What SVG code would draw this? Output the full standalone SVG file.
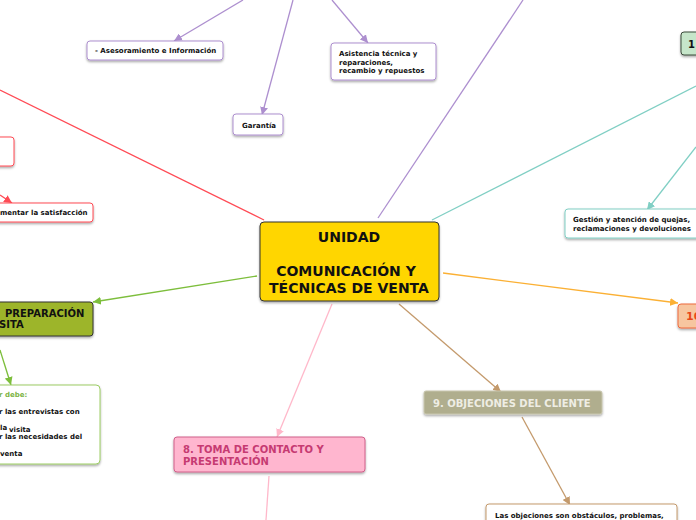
<svg xmlns="http://www.w3.org/2000/svg" width="696" height="520" viewBox="0 0 696 520">
<defs>
<filter id="sh" x="-10%" y="-20%" width="120%" height="150%">
<feDropShadow dx="0" dy="1.5" stdDeviation="1" flood-color="#000" flood-opacity="0.35"/>
</filter>
<marker id="aPur" markerUnits="userSpaceOnUse" markerWidth="9" markerHeight="8" refX="8" refY="4" orient="auto"><path d="M0,0 L8,4 L0,8 z" fill="#AD8FCF"/></marker>
<marker id="aRed" markerUnits="userSpaceOnUse" markerWidth="9" markerHeight="8" refX="8" refY="4" orient="auto"><path d="M0,0 L8,4 L0,8 z" fill="#FF4B55"/></marker>
<marker id="aTeal" markerUnits="userSpaceOnUse" markerWidth="9" markerHeight="8" refX="8" refY="4" orient="auto"><path d="M0,0 L8,4 L0,8 z" fill="#80CFC4"/></marker>
<marker id="aGrn" markerUnits="userSpaceOnUse" markerWidth="9" markerHeight="8" refX="8" refY="4" orient="auto"><path d="M0,0 L8,4 L0,8 z" fill="#7DBE3C"/></marker>
<marker id="aOrg" markerUnits="userSpaceOnUse" markerWidth="9" markerHeight="8" refX="8" refY="4" orient="auto"><path d="M0,0 L8,4 L0,8 z" fill="#FBB034"/></marker>
<marker id="aPnk" markerUnits="userSpaceOnUse" markerWidth="9" markerHeight="8" refX="8" refY="4" orient="auto"><path d="M0,0 L8,4 L0,8 z" fill="#FFB8CA"/></marker>
<marker id="aBrn" markerUnits="userSpaceOnUse" markerWidth="9" markerHeight="8" refX="8" refY="4" orient="auto"><path d="M0,0 L8,4 L0,8 z" fill="#C49A6C"/></marker>
</defs>
<style>
text{font-family:"DejaVu Sans",Verdana,"Liberation Sans",sans-serif;font-weight:bold}
.s{font-size:7px;fill:#111}
.m{font-size:10px}
.c{fill:none;stroke-width:1.3}
.pur{stroke:#AD8FCF}.red{stroke:#FF4B55}.teal{stroke:#80CFC4}.grn{stroke:#7DBE3C}.org{stroke:#FBB034}.pnk{stroke:#FFB8CA}.brn{stroke:#C49A6C}
.box{filter:url(#sh)}
</style>
<rect width="696" height="520" fill="#fff"/>
<g id="connectors">
<line class="c red" x1="264" y1="220" x2="0" y2="90"/>
<line class="c pur" x1="378" y1="218" x2="523" y2="0"/>
<line class="c teal" x1="432" y1="220" x2="696" y2="86"/>
<line class="c grn" x1="257" y1="276" x2="93" y2="302" marker-end="url(#aGrn)"/>
<line class="c org" x1="443" y1="273" x2="678" y2="303" marker-end="url(#aOrg)"/>
<line class="c pnk" x1="332" y1="304" x2="277" y2="437" marker-end="url(#aPnk)"/>
<line class="c brn" x1="399" y1="304" x2="501" y2="392" marker-end="url(#aBrn)"/>
<line class="c pur" x1="243" y1="0" x2="174" y2="41" marker-end="url(#aPur)"/>
<line class="c pur" x1="293" y1="0" x2="262" y2="115" marker-end="url(#aPur)"/>
<line class="c pur" x1="332" y1="0" x2="368" y2="43" marker-end="url(#aPur)"/>
<line class="c teal" x1="696" y1="147" x2="647" y2="210" marker-end="url(#aTeal)"/>
<line class="c brn" x1="522" y1="417" x2="570" y2="505" marker-end="url(#aBrn)"/>
<line class="c pnk" x1="269" y1="476" x2="266" y2="520"/>
<line class="c grn" x1="0" y1="350" x2="11" y2="385" marker-end="url(#aGrn)"/>
<line class="c red" x1="0" y1="195" x2="12" y2="203" marker-end="url(#aRed)"/>
</g>
<g id="central">
<rect class="box" x="260" y="222" width="179" height="79" rx="4" fill="#FFD600" stroke="#333" stroke-width="1"/>
<text x="349" y="242" font-size="14" text-anchor="middle" fill="#111">UNIDAD</text>
<text x="346" y="276" font-size="14" text-anchor="middle" fill="#111">COMUNICACIÓN Y</text>
<text x="349" y="293" font-size="14" text-anchor="middle" fill="#111">TÉCNICAS DE VENTA</text>
</g>
<g id="asesoramiento">
<rect class="box" x="87" y="41" width="136" height="19" rx="3" fill="#fff" stroke="#AD8FCF"/>
<text class="s" x="95" y="53">- Asesoramiento e Información</text>
</g>
<g id="asistencia">
<rect class="box" x="331" y="43" width="105" height="37" rx="3" fill="#fff" stroke="#AD8FCF"/>
<text class="s" x="339" y="56">Asistencia técnica y</text>
<text class="s" x="339" y="64.5">reparaciones,</text>
<text class="s" x="339" y="73">recambio y repuestos</text>
</g>
<g id="garantia">
<rect class="box" x="233" y="114" width="50" height="21" rx="3" fill="#fff" stroke="#AD8FCF"/>
<text class="s" x="242" y="128">Garantía</text>
</g>
<g id="node11">
<rect class="box" x="681" y="32" width="30" height="23" rx="3" fill="#C6E6CA" stroke="#3A4A3A"/>
<text x="688" y="48" font-size="10" fill="#111">1</text>
</g>
<g id="gestion">
<rect class="box" x="565" y="209" width="140" height="29" rx="3" fill="#fff" stroke="#80CFC4"/>
<text class="s" x="573" y="222">Gestión y atención de quejas,</text>
<text class="s" x="573" y="231">reclamaciones y devoluciones</text>
</g>
<g id="node10">
<rect class="box" x="678" y="304" width="30" height="24" rx="3" fill="#F7C6A0" stroke="#EE6A3C"/>
<text x="686" y="320" font-size="11" fill="#E8471A">10</text>
</g>
<g id="node9">
<rect class="box" x="424" y="391" width="178" height="23" rx="2" fill="#B0AE8E" stroke="#C8C6AE"/>
<text class="m" x="433" y="407" fill="#EEEDE4">9. OBJECIONES DEL CLIENTE</text>
</g>
<g id="objeciones">
<rect class="box" x="486" y="504" width="191" height="30" rx="3" fill="#fff" stroke="#C49A6C"/>
<text class="s" x="495" y="518">Las objeciones son obstáculos, problemas,</text>
</g>
<g id="node8">
<rect class="box" x="174" y="437" width="191" height="35" rx="3" fill="#FFB6CF" stroke="#D0608A"/>
<text class="m" x="183" y="453" fill="#C63A72">8. TOMA DE CONTACTO Y</text>
<text class="m" x="183" y="465" fill="#C63A72">PRESENTACIÓN</text>
</g>
<g id="node7">
<rect class="box" x="-20" y="302" width="113" height="34" rx="3" fill="#9DB52B" stroke="#333"/>
<text class="m" x="5" y="317" fill="#111">PREPARACIÓN</text>
<text class="m" x="-1" y="328" fill="#111">SITA</text>
</g>
<g id="node7content">
<rect class="box" x="-20" y="385" width="120" height="79" rx="4" fill="#fff" stroke="#9CCC65"/>
<text class="s" x="-1" y="397" fill="#7CB342" style="fill:#7CB342">r debe:</text>
<text class="s" x="-1" y="414">r las entrevistas con</text>
<text class="s" x="0" y="430">la</text>
<text class="s" x="9" y="432">visita</text>
<text class="s" x="-1" y="439">r las necesidades del</text>
<text class="s" x="0" y="456">venta</text>
</g>
<g id="satisfaccion">
<rect class="box" x="-20" y="203" width="113" height="19" rx="3" fill="#fff" stroke="#FF4B55"/>
<text class="s" x="0" y="215">mentar la satisfacción</text>
</g>
<g id="redbox">
<rect class="box" x="-20" y="137" width="34" height="29" rx="3" fill="#fff" stroke="#FF4B55"/>
</g>
</svg>
